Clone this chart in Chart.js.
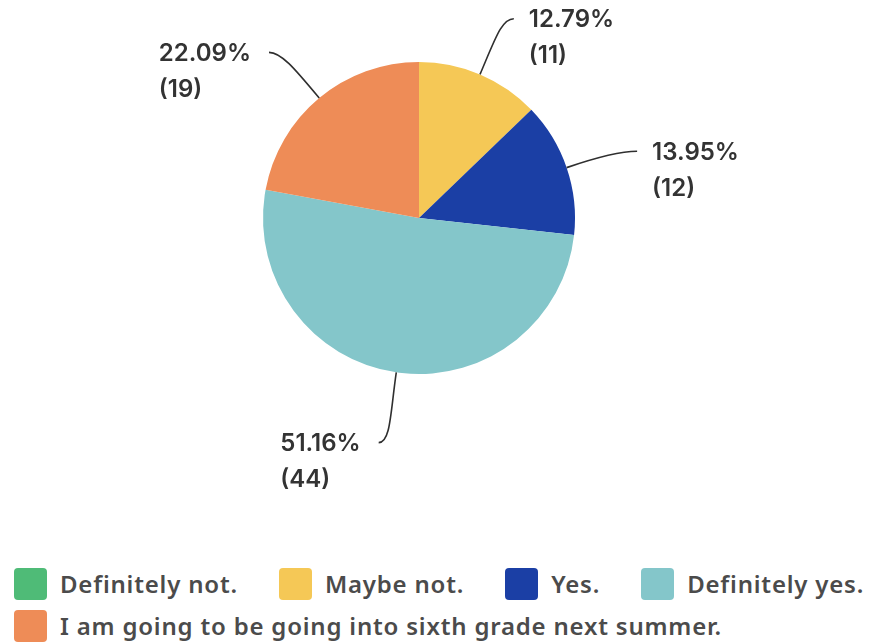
<!DOCTYPE html>
<html>
<head>
<meta charset="utf-8">
<script src="https://cdn.jsdelivr.net/npm/chart.js@4.4.1/dist/chart.umd.min.js"></script>
<style>
  html, body { margin: 0; padding: 0; background: #ffffff; }
  #wrap { position: relative; width: 871px; height: 644px; overflow: hidden; }
  #chartBox { position: absolute; left: 0; top: 0; width: 871px; height: 560px; }
  #legend { position: absolute; left: 14px; top: 568px; width: 860px;
            font-family: "Noto Sans", "Open Sans", sans-serif; font-weight: 600;
            font-size: 24px; color: #4b4b4b; }
  .row { display: flex; align-items: center; height: 32px; margin-bottom: 10px; white-space: nowrap; }
  .item { display: flex; align-items: center; margin-right: 41px; }
  .swatch { width: 33px; height: 32px; border-radius: 4px; margin-right: 13px; flex: none; }
  .label { line-height: 32px; letter-spacing: 0.8px; }
</style>
</head>
<body>
<div id="wrap">
  <div id="chartBox"><canvas id="pie"></canvas></div>
  <div id="legend"></div>
</div>
<script>
// Survey answers
const categories = [
  'Definitely not.',
  'Maybe not.',
  'Yes.',
  'Definitely yes.',
  'I am going to be going into sixth grade next summer.'
];
const responseCounts = [0, 11, 12, 44, 19];
const responsePercents = [0, 12.79, 13.95, 51.16, 22.09];
const sliceColors = ['#4fbb77', '#f5c856', '#1b3fa5', '#84c6ca', '#ee8c57'];
// legend rows: indexes of the categories in each row
const legendRows = [[0, 1, 2, 3], [4]];

// outside labels with curved leader lines
const outsideLabels = {
  id: 'outsideLabels',
  afterDatasetsDraw(chart) {
    const ctx = chart.ctx;
    const meta = chart.getDatasetMeta(0);
    meta.data.forEach((arc, i) => {
      if (!responseCounts[i]) return;
      const p = arc.getProps(['x', 'y', 'startAngle', 'endAngle', 'outerRadius'], true);
      const mid = (p.startAngle + p.endAngle) / 2;
      const dx = Math.cos(mid), dy = Math.sin(mid);
      const side = dx >= 0 ? 1 : -1;
      const R = p.outerRadius;
      const x0 = p.x + R * dx, y0 = p.y + R * dy;
      const ex = p.x + (R + 66) * dx + side * 8;
      const ey = p.y + (R + 66) * dy + 5;
      ctx.save();
      ctx.strokeStyle = '#2f2f2f';
      ctx.lineWidth = 1.6;
      ctx.beginPath();
      ctx.moveTo(x0, y0);
      ctx.bezierCurveTo(x0 + dx * 40, y0 + dy * 40, ex - side * 12, ey, ex, ey);
      ctx.stroke();

      ctx.fillStyle = '#333333';
      ctx.font = '600 24px Inter, "Noto Sans", sans-serif';
      ctx.textAlign = 'left';
      ctx.textBaseline = 'middle';
      const pct = responsePercents[i].toFixed(2) + '%';
      const w = ctx.measureText(pct).width;
      // text block is left-aligned on both sides of the pie
      const tx = side > 0 ? ex + 15 : ex - 18 - w;
      ctx.fillText(pct, tx, ey + 1);
      ctx.fillText('(' + responseCounts[i] + ')', tx, ey + 37);
      ctx.restore();
    });
  }
};

const chart = new Chart(document.getElementById('pie'), {
  type: 'pie',
  data: {
    labels: categories,
    datasets: [{
      data: responseCounts,
      backgroundColor: sliceColors,
      borderWidth: 0
    }]
  },
  options: {
    responsive: true,
    maintainAspectRatio: false,
    animation: false,
    layout: { padding: { top: 62, bottom: 186, left: 263, right: 296 } },
    plugins: {
      legend: { display: false },
      tooltip: { enabled: false }
    }
  },
  plugins: [outsideLabels]
});

// legend built from the chart's own labels and colours
const legendEl = document.getElementById('legend');
legendRows.forEach(row => {
  const rowEl = document.createElement('div');
  rowEl.className = 'row';
  row.forEach(i => {
    const item = document.createElement('div');
    item.className = 'item';
    const sw = document.createElement('div');
    sw.className = 'swatch';
    sw.style.background = chart.data.datasets[0].backgroundColor[i];
    const lb = document.createElement('span');
    lb.className = 'label';
    lb.textContent = chart.data.labels[i];
    item.appendChild(sw);
    item.appendChild(lb);
    rowEl.appendChild(item);
  });
  legendEl.appendChild(rowEl);
});
</script>
</body>
</html>
